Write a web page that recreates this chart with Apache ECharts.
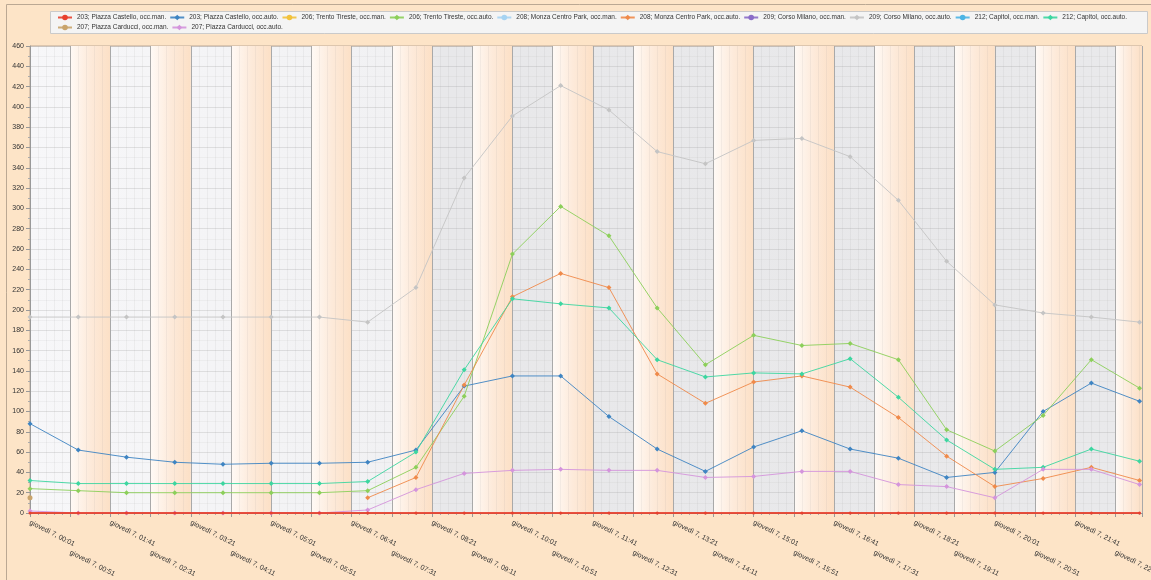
<!DOCTYPE html>
<html>
<head>
<meta charset="utf-8">
<script src="https://cdn.jsdelivr.net/npm/echarts@6/dist/echarts.min.js"></script>
<style>
  html, body { margin: 0; padding: 0; background: #fde4c7; }
  #main { width: 1151px; height: 580px; }
</style>
</head>
<body>
<div id="main"></div>
<script>
// orari dei campioni (giovedì 7)
var hours = ['00:01', '01:01', '02:01', '03:01', '04:01', '05:01', '06:01', '07:01',
  '08:01', '09:01', '10:01', '11:01', '12:01', '13:01', '14:01', '15:01',
  '16:01', '17:01', '18:01', '19:01', '20:01', '21:01', '22:01', '23:01'];

var castelloMan = [0, 0, 0, 0, 0, 0, 0, 0, 0, 0, 0, 0, 0, 0, 0, 0, 0, 0, 0, 0, 0, 0, 0, 0];
var castelloAuto = [88, 62, 55, 50, 48, 49, 49, 50, 62, 125, 135, 135, 95, 63, 41, 65, 81, 63, 54, 35, 40, 100, 128, 110];
var trentoMan = [];
var trentoAuto = [24, 22, 20, 20, 20, 20, 20, 22, 45, 115, 255, 302, 273, 202, 146, 175, 165, 167, 151, 82, 61, 96, 151, 123];
var monzaMan = [];
var monzaAuto = [null, null, null, null, null, null, null, 15, 35, 126, 213, 236, 222, 137, 108, 129, 135, 124, 94, 56, 26, 34, 45, 32];
var milanoMan = [];
var milanoAuto = [193, 193, 193, 193, 193, 193, 193, 188, 222, 330, 391, 421, 397, 356, 344, 367, 369, 351, 308, 248, 205, 197, 193, 188];
var capitolMan = [];
var capitolAuto = [32, 29, 29, 29, 29, 29, 29, 31, 60, 141, 211, 206, 202, 151, 134, 138, 137, 152, 114, 72, 43, 45, 63, 51];
var carducciMan = [15, null, null, null, null, null, null, null, null, null, null, null, null, null, null, null, null, null, null, null, null, null, null, null];
var carducciAuto = [2, 0, 0, 0, 0, 0, 0, 3, 23, 39, 42, 43, 42, 42, 35, 36, 41, 41, 28, 26, 15, 43, 43, 28];

var FONT = 'Liberation Sans';

function toMin(h) {
  var p = h.split(':');
  return parseInt(p[0], 10) * 60 + parseInt(p[1], 10) - 1; // minuti da 00:01
}
function pad(n) { return n < 10 ? '0' + n : '' + n; }
function timeLabel(row) {
  return function (v) {
    if (v % 50 !== 0) return '';
    if ((v / 50) % 2 !== row) return '';
    var t = v + 1;
    return 'giovedì 7, ' + pad(Math.floor(t / 60)) + ':' + pad(t % 60);
  };
}

var defs = [
  ['203; Piazza Castello, occ.man.', castelloMan, '#e8402e', 'circle'],
  ['203; Piazza Castello, occ.auto.', castelloAuto, '#3e84c2', 'diamond'],
  ['206; Trento Tireste, occ.man.', trentoMan, '#f2c23c', 'circle'],
  ['206; Trento Tireste, occ.auto.', trentoAuto, '#8ccf5a', 'diamond'],
  ['208; Monza Centro Park, occ.man.', monzaMan, '#a6d3f2', 'circle'],
  ['208; Monza Centro Park, occ.auto.', monzaAuto, '#ef8a4a', 'diamond'],
  ['209; Corso Milano, occ.man.', milanoMan, '#8a6cc8', 'circle'],
  ['209; Corso Milano, occ.auto.', milanoAuto, '#c4c4c4', 'diamond'],
  ['212; Capitol, occ.man.', capitolMan, '#4cb4e4', 'circle'],
  ['212; Capitol, occ.auto.', capitolAuto, '#3cd6a0', 'diamond'],
  ['207; Piazza Carducci, occ.man.', carducciMan, '#c9a46c', 'circle'],
  ['207; Piazza Carducci, occ.auto.', carducciAuto, '#d494dc', 'diamond']
];

var series = defs.map(function (d, k) {
  return {
    name: d[0],
    type: 'line',
    data: d[1].map(function (v, i) { return [toMin(hours[i]), v]; }),
    symbol: d[3],
    symbolSize: k === 0 ? 3 : 5,
    showSymbol: true,
    connectNulls: false,
    z: k === 0 ? 4 : 2,
    itemStyle: { color: d[2] },
    lineStyle: { color: d[2], width: k === 0 ? 2 : 1, opacity: 0.9 }
  };
});

var chart = echarts.init(document.getElementById('main'));
chart.setOption({
  animation: false,
  backgroundColor: '#fde4c7',
  textStyle: { fontFamily: FONT },
  graphic: [{
    type: 'rect',
    shape: { x: 6.5, y: 4.5, width: 1160, height: 600 },
    style: { fill: 'none', stroke: '#bba893', lineWidth: 1 },
    silent: true
  }, {
    type: 'rect',
    shape: { x: 50.5, y: 11.5, width: 1097, height: 22 },
    style: { fill: '#f4f4f4', stroke: '#cacaca', lineWidth: 1 },
    silent: true
  }],
  legend: {
    left: 52,
    right: 3,
    top: 11,
    padding: [3, 5, 3, 5],
    itemGap: 3,
    itemWidth: 14,
    itemHeight: 7,
    textStyle: { fontSize: 6.5, color: '#333', fontFamily: FONT },
    data: defs.map(function (d) { return d[0]; })
  },
  grid: {
    left: 30,
    right: 9,
    top: 46,
    bottom: 67,
    show: true,
    outerBoundsMode: 'none',
    borderColor: '#bca894',
    borderWidth: 1,
    backgroundColor: {
      type: 'linear', x: 0, y: 0, x2: 1, y2: 0,
      colorStops: [
        { offset: 0, color: '#f7f7f9' },
        { offset: 0.33, color: '#f1f1f3' },
        { offset: 0.37, color: '#e8e8ea' },
        { offset: 1, color: '#e9e9eb' }
      ]
    }
  },
  xAxis: [{
    type: 'value',
    min: 0,
    max: 1383,
    interval: 50,
    axisLine: { show: true, lineStyle: { color: '#999' } },
    axisTick: { show: true, length: 4, lineStyle: { color: '#999' } },
    minorTick: { show: true, splitNumber: 5, length: 2, lineStyle: { color: '#aaa' } },
    minorSplitLine: { show: true, lineStyle: { color: 'rgba(150,150,150,0.1)' } },
    splitLine: { show: true, lineStyle: { color: '#a9a9a9' } },
    splitArea: {
      show: true,
      areaStyle: {
        color: ['rgba(0,0,0,0)', {
          type: 'linear', x: 0, y: 0, x2: 1, y2: 0,
          colorStops: [
            { offset: 0, color: '#fffaf6' },
            { offset: 0.5, color: '#fdeada' },
            { offset: 1, color: '#fce0c6' }
          ]
        }]
      }
    },
    axisLabel: {
      rotate: -27,
      margin: 9,
      fontSize: 7,
      color: '#333',
      fontFamily: FONT,
      formatter: timeLabel(0)
    }
  }, {
    type: 'value',
    position: 'bottom',
    offset: 30,
    min: 0,
    max: 1383,
    interval: 50,
    axisLine: { show: false },
    axisTick: { show: false },
    splitLine: { show: false },
    axisLabel: {
      rotate: -27,
      margin: 9,
      fontSize: 7,
      color: '#333',
      fontFamily: FONT,
      formatter: timeLabel(1)
    }
  }],
  yAxis: {
    type: 'value',
    min: 0,
    max: 460,
    interval: 20,
    axisLine: { show: true, lineStyle: { color: '#999' } },
    axisTick: { show: true, length: 4, lineStyle: { color: '#999' } },
    minorTick: { show: true, splitNumber: 2, length: 2, lineStyle: { color: '#aaa' } },
    minorSplitLine: { show: true, lineStyle: { color: 'rgba(150,150,150,0.09)' } },
    splitLine: { show: true, lineStyle: { color: 'rgba(160,160,160,0.28)' } },
    axisLabel: { fontSize: 7, color: '#333', margin: 6, fontFamily: FONT }
  },
  series: series
});
</script>
</body>
</html>
